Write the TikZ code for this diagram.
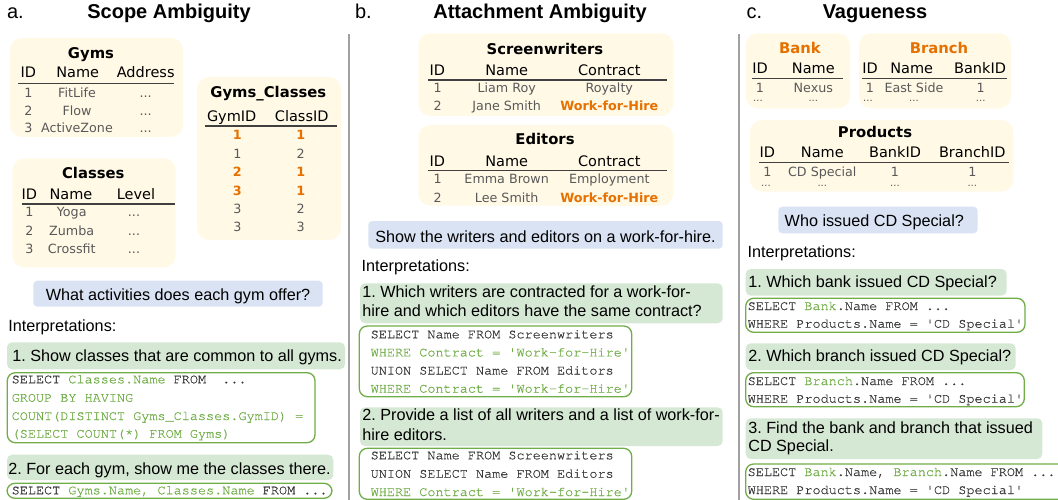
\documentclass[tikz,border=0pt]{standalone}
\usepackage{fontspec}
\setmainfont{Liberation Sans}
\setmonofont[FakeBold=0.6]{TeX Gyre Cursor}
\newfontfamily\tabfont{DejaVu Sans}
\definecolor{tabfill}{RGB}{255,249,230}
\definecolor{qblue}{RGB}{218,227,243}
\definecolor{igreen}{RGB}{213,232,212}
\definecolor{cgreen}{RGB}{112,173,71}
\definecolor{hlorange}{RGB}{230,112,0}
\definecolor{cellgray}{RGB}{89,89,89}
\definecolor{codegray}{RGB}{55,55,55}
\definecolor{rulegray}{RGB}{64,64,64}
\definecolor{divgray}{RGB}{160,160,160}
\newcommand\rbox[6]{\node[#2, minimum width={(#5-#3)*1pt}, minimum height={(#6-#4)*1pt}] (#1) at ({(#3+#5)/2},{(#4+#6)/2}) {};}
\tikzset{
  every node/.style={inner sep=0pt, outer sep=0pt},
  tbox/.style={fill=tabfill, rounded corners=12pt},
  qbox/.style={fill=qblue, rounded corners=4pt},
  ibox/.style={fill=igreen, rounded corners=5pt},
  cbox/.style={draw=cgreen, line width=1.3pt, rounded corners=8pt},
  ptitle/.style={font=\bfseries\fontsize{20}{24}\selectfont, anchor=base},
  plabel/.style={font=\fontsize{20}{24}\selectfont, anchor=base west},
  ttitle/.style={font=\tabfont\bfseries\fontsize{14.8}{17}\selectfont, anchor=base},
  otitle/.style={ttitle, text=hlorange},
  thead/.style={font=\tabfont\fontsize{14.5}{17}\selectfont, anchor=base},
  tcell/.style={font=\tabfont\fontsize{12.7}{15}\selectfont, text=cellgray, anchor=base},
  tdots/.style={font=\tabfont\fontsize{10}{12}\selectfont, text=cellgray, anchor=base},
  thl/.style={font=\tabfont\bfseries\fontsize{12.7}{15}\selectfont, text=hlorange, anchor=base},
  trule/.style={draw=rulegray, line width=1.2pt},
  qtxt/.style={font=\fontsize{16.2}{19.5}\selectfont, anchor=base},
  itxt/.style={font=\fontsize{16.2}{19.5}\selectfont, anchor=base west},
  code/.style={font=\ttfamily\fontsize{13.5}{18}\selectfont, text=codegray, anchor=base west},
  gc/.style={text=cgreen},
  divider/.style={draw=divgray, line width=1.5pt}
}
\newcommand\gr[1]{\textcolor{cgreen}{#1}}
\frenchspacing
\begin{document}
\begin{tikzpicture}[x=1pt,y=-1pt]
\useasboundingbox (0,0) rectangle (1058,500);
% dividers
\coordinate (d1t) at (349,34); \coordinate (d1b) at (349,500);
\coordinate (d2t) at (739,34); \coordinate (d2b) at (739,500);
\draw[divider] (d1t) -- (d1b);
\draw[divider] (d2t) -- (d2b);
% ===== panel a =====
\node[plabel] (la) at (7,18.5) {a.};
\node[ptitle] (ta) at (169,19) {Scope Ambiguity};
% Gyms
\rbox{gymsbox}{tbox}{10}{38}{183}{137}
\node[ttitle] (gymsT) at (91,59) {Gyms};
\node[thead] (gh1) at (28.3,78) {ID};
\node[thead] (gh2) at (77.7,78) {Name};
\node[thead] (gh3) at (145.7,78) {Address};
\coordinate (gr1) at (18.3,83.3); \coordinate (gr2) at (174,83.3);
\draw[trule] (gr1) -- (gr2);
\node[tcell] (g11) at (28.3,98) {1};
\node[tcell] (g12) at (77,98) {FitLife};
\node[tcell] (g13) at (145.7,98) {...};
\node[tcell] (g21) at (28.3,115.5) {2};
\node[tcell] (g22) at (77,115.5) {Flow};
\node[tcell] (g23) at (145.7,115.5) {...};
\node[tcell] (g31) at (28.3,133) {3};
\node[tcell] (g32) at (77,133) {ActiveZone};
\node[tcell] (g33) at (145.7,133) {...};
% Gyms_Classes
\rbox{gcbox}{tbox}{197}{77}{341}{240}
\node[ttitle] (gcT) at (268.3,98) {Gyms\_Classes};
\node[thead] (gch1) at (231.7,121.5) {GymID};
\node[thead] (gch2) at (301.7,121.5) {ClassID};
\coordinate (gcr1) at (205,126); \coordinate (gcr2) at (336.7,126);
\draw[trule] (gcr1) -- (gcr2);
\node[thl] (gc11) at (237.3,140) {1};
\node[thl] (gc12) at (300.7,140) {1};
\node[tcell] (gc21) at (237.3,158.3) {1};
\node[tcell] (gc22) at (300.7,158.3) {2};
\node[thl] (gc31) at (237.3,176.5) {2};
\node[thl] (gc32) at (300.7,176.5) {1};
\node[thl] (gc41) at (237.3,195) {3};
\node[thl] (gc42) at (300.7,195) {1};
\node[tcell] (gc51) at (237.3,213) {3};
\node[tcell] (gc52) at (300.7,213) {2};
\node[tcell] (gc61) at (237.3,231) {3};
\node[tcell] (gc62) at (300.7,231) {3};
% Classes
\rbox{clbox}{tbox}{12.3}{158.3}{175.7}{267.3}
\node[ttitle] (clT) at (93.3,178.3) {Classes};
\node[thead] (clh1) at (29.3,199.3) {ID};
\node[thead] (clh2) at (71,199.3) {Name};
\node[thead] (clh3) at (136,199.3) {Level};
\coordinate (clr1) at (21.7,204); \coordinate (clr2) at (175,204);
\draw[trule] (clr1) -- (clr2);
\node[tcell] (cl11) at (29.3,216.5) {1};
\node[tcell] (cl12) at (71.7,216.5) {Yoga};
\node[tcell] (cl13) at (134,216.5) {...};
\node[tcell] (cl21) at (29.3,235) {2};
\node[tcell] (cl22) at (71.7,235) {Zumba};
\node[tcell] (cl23) at (134,235) {...};
\node[tcell] (cl31) at (29.3,253.5) {3};
\node[tcell] (cl32) at (71.7,253.5) {Crossfit};
\node[tcell] (cl33) at (134,253.5) {...};
% question
\rbox{qa}{qbox}{33.3}{280.7}{322.7}{306.7}
\node[qtxt] (qat) at (178,300.7) {What activities does each gym offer?};
\node[itxt] (ia) at (8.3,331.7) {Interpretations:};
\rbox{ia1}{ibox}{7}{342.3}{345}{369.3}
\node[itxt] (ia1t) at (12.3,361.7) {1. Show classes that are common to all gyms.};
\rbox{ca1}{cbox}{7.3}{372.7}{315}{442.7}
\node[code] (ca1a) at (11.7,383.3) {SELECT \gr{Classes.Name} FROM\ \ ...};
\node[code,gc] (ca1b) at (11.7,401.7) {GROUP BY HAVING};
\node[code,gc] (ca1c) at (11.7,420) {COUNT(DISTINCT Gyms\_Classes.GymID) =};
\node[code,gc] (ca1d) at (11.7,437.7) {(SELECT COUNT(*) FROM Gyms)};
\rbox{ia2}{ibox}{7}{454.7}{333.3}{480}
\node[itxt] (ia2t) at (8.3,474) {2. For each gym, show me the classes there.};
\rbox{ca2}{cbox}{7}{483.3}{332}{498.3}
\node[code] (ca2a) at (11.7,494.3) {SELECT \gr{Gyms.Name, Classes.Name} FROM ...};
% ===== panel b =====
\node[plabel] (lb) at (355,18.5) {b.};
\node[ptitle] (tb) at (540,19) {Attachment Ambiguity};
\rbox{swbox}{tbox}{418.3}{33.3}{673.3}{116}
\node[ttitle] (swT) at (545,54.3) {Screenwriters};
\node[thead] (swh1) at (437.3,76) {ID};
\node[thead] (swh2) at (506.7,76) {Name};
\node[thead] (swh3) at (609.3,76) {Contract};
\coordinate (swr1) at (428.3,80); \coordinate (swr2) at (666.7,80);
\draw[trule] (swr1) -- (swr2);
\node[tcell] (sw11) at (437.7,92.7) {1};
\node[tcell] (sw12) at (506.7,92.7) {Liam Roy};
\node[tcell] (sw13) at (609.3,92.7) {Royalty};
\node[tcell] (sw21) at (437.7,111) {2};
\node[tcell] (sw22) at (506.7,111) {Jane Smith};
\node[thl] (sw23) at (609.3,111) {Work-for-Hire};
\rbox{edbox}{tbox}{418.3}{125}{673.3}{205.7}
\node[ttitle] (edT) at (545,145) {Editors};
\node[thead] (edh1) at (437.3,166.5) {ID};
\node[thead] (edh2) at (506.7,166.5) {Name};
\node[thead] (edh3) at (609.3,166.5) {Contract};
\coordinate (edr1) at (428.3,170.7); \coordinate (edr2) at (666.7,170.7);
\draw[trule] (edr1) -- (edr2);
\node[tcell] (ed11) at (437.7,184) {1};
\node[tcell] (ed12) at (506.7,184) {Emma Brown};
\node[tcell] (ed13) at (609.3,184) {Employment};
\node[tcell] (ed21) at (437.7,202) {2};
\node[tcell] (ed22) at (506.7,202) {Lee Smith};
\node[thl] (ed23) at (609.3,202) {Work-for-Hire};
\rbox{qb}{qbox}{368.3}{221}{722.7}{248.7}
\node[qtxt] (qbt) at (545.5,242.5) {Show the writers and editors on a work-for-hire.};
\node[itxt] (ib) at (361.7,271.5) {Interpretations:};
\rbox{ib1}{ibox}{360}{283.3}{722.7}{323.3}
\node[itxt] (ib1a) at (362.3,297.3) {1. Which writers are contracted for a work-for-};
\node[itxt] (ib1b) at (362.3,316.5) {hire and which editors have the same contract?};
\rbox{cb1}{cbox}{359.3}{326}{631.7}{396.7}
\node[code] (cb1a) at (370.7,338.3) {SELECT Name FROM Screenwriters};
\node[code,gc] (cb1b) at (370.7,356.4) {WHERE Contract = 'Work-for-Hire'};
\node[code] (cb1c) at (370.7,374.5) {UNION SELECT Name FROM Editors};
\node[code,gc] (cb1d) at (370.7,392.6) {WHERE Contract = 'Work-for-Hire'};
\rbox{ib2}{ibox}{360}{407.3}{722.7}{446}
\node[itxt] (ib2a) at (362.3,420.5) {2. Provide a list of all writers and a list of work-for-};
\node[itxt] (ib2b) at (362.3,440) {hire editors.};
\rbox{cb2}{cbox}{359.3}{448.3}{631.7}{499.3}
\node[code] (cb2a) at (370.7,459.3) {SELECT Name FROM Screenwriters};
\node[code] (cb2b) at (370.7,477.7) {UNION SELECT Name FROM Editors};
\node[code,gc] (cb2c) at (370.7,496) {WHERE Contract = 'Work-for-Hire'};
% ===== panel c =====
\node[plabel] (lc) at (746.7,18.5) {c.};
\node[ptitle] (tc) at (875,18.5) {Vagueness};
\rbox{bkbox}{tbox}{745.7}{33.3}{850}{108.3}
\node[otitle] (bkT) at (800,53.3) {Bank};
\node[thead] (bkh1) at (760,74) {ID};
\node[thead] (bkh2) at (813.3,74) {Name};
\coordinate (bkr1) at (752.3,78.3); \coordinate (bkr2) at (843.3,78.3);
\draw[trule] (bkr1) -- (bkr2);
\node[tcell] (bk11) at (760,92.7) {1};
\node[tcell] (bk12) at (813.3,92.7) {Nexus};
\node[tdots] (bk21) at (758,101.5) {...};
\node[tdots] (bk22) at (813.3,101.5) {...};
\rbox{brbox}{tbox}{859}{33.3}{1011}{108.3}
\node[otitle] (brT) at (939,53.3) {Branch};
\node[thead] (brh1) at (870,74) {ID};
\node[thead] (brh2) at (911.7,74) {Name};
\node[thead] (brh3) at (980,74) {BankID};
\coordinate (brr1) at (862.3,78.3); \coordinate (brr2) at (1006.7,78.3);
\draw[trule] (brr1) -- (brr2);
\node[tcell] (br11) at (870,92.7) {1};
\node[tcell] (br12) at (914,92.7) {East Side};
\node[tcell] (br13) at (980.7,92.7) {1};
\node[tdots] (br21) at (868,101.5) {...};
\node[tdots] (br22) at (914,101.5) {...};
\node[tdots] (br23) at (980.7,101.5) {...};
\rbox{prbox}{tbox}{750}{120}{1013.3}{191.7}
\node[ttitle] (prT) at (875,137.3) {Products};
\node[thead] (prh1) at (767.3,157.7) {ID};
\node[thead] (prh2) at (822.3,157.7) {Name};
\node[thead] (prh3) at (895,157.7) {BankID};
\node[thead] (prh4) at (972.3,157.7) {BranchID};
\coordinate (prr1) at (759,162.7); \coordinate (prr2) at (1009,162.7);
\draw[trule] (prr1) -- (prr2);
\node[tcell] (pr11) at (767.3,176.7) {1};
\node[tcell] (pr12) at (822.3,176.7) {CD Special};
\node[tcell] (pr13) at (895,176.7) {1};
\node[tcell] (pr14) at (972.3,176.7) {1};
\node[tdots] (pr21) at (766,186.5) {...};
\node[tdots] (pr22) at (822.3,186.5) {...};
\node[tdots] (pr23) at (895,186.5) {...};
\node[tdots] (pr24) at (972.3,186.5) {...};
\rbox{qc}{qbox}{778.3}{206.7}{977.7}{233.3}
\node[qtxt] (qct) at (874.3,226.7) {Who issued CD Special?};
\node[itxt] (ic) at (747.7,257.3) {Interpretations:};
\rbox{ic1}{ibox}{745.7}{269}{1006.7}{295.7}
\node[itxt] (ic1t) at (748.3,287.3) {1. Which bank issued CD Special?};
\rbox{cc1}{cbox}{745.7}{298.3}{1025}{332.3}
\node[code] (cc1a) at (747.7,310) {SELECT \gr{Bank}.Name FROM ...};
\node[code] (cc1b) at (747.7,327.7) {WHERE Products.Name = 'CD Special'};
\rbox{ic2}{ibox}{745.7}{343.3}{1015.7}{370}
\node[itxt] (ic2t) at (748.3,361.7) {2. Which branch issued CD Special?};
\rbox{cc2}{cbox}{745.7}{372.7}{1024.3}{406.7}
\node[code] (cc2a) at (747.7,385) {SELECT \gr{Branch}.Name FROM ...};
\node[code] (cc2b) at (747.7,402.7) {WHERE Products.Name = 'CD Special'};
\rbox{ic3}{ibox}{745.7}{418.3}{1042.3}{459}
\node[itxt] (ic3a) at (748.3,433.3) {3. Find the bank and branch that issued};
\node[itxt] (ic3b) at (748.3,451.7) {CD Special.};
\rbox{cc3}{cbox}{745.7}{464}{1068}{499.3}
\node[code] (cc3a) at (747.7,476) {SELECT \gr{Bank}.Name, \gr{Branch}.Name FROM ...};
\node[code] (cc3b) at (747.7,494) {WHERE Products.Name = 'CD Special'};
\end{tikzpicture}
\end{document}
